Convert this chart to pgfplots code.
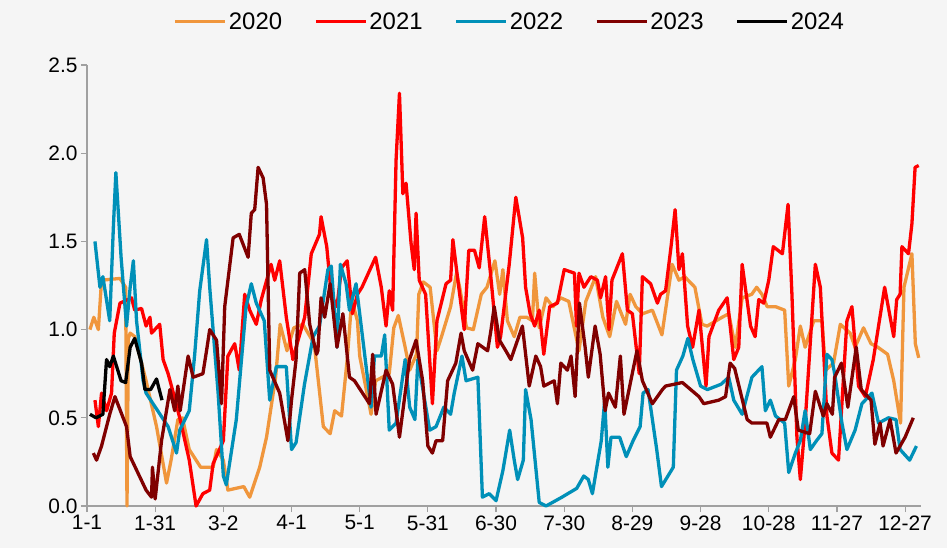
\documentclass[border=0pt]{standalone}
\usepackage{pgfplots}
\pgfplotsset{compat=1.18}
\usepackage{fontspec}
\setmainfont{Liberation Sans}
\definecolor{bg}{HTML}{F5F5F5}
\definecolor{c20}{HTML}{F0963C}
\definecolor{c21}{HTML}{FF0000}
\definecolor{c22}{HTML}{0090B8}
\definecolor{c23}{HTML}{800000}
\definecolor{ax}{HTML}{A0A0A0}
\begin{document}
\begin{tikzpicture}
\path[use as bounding box,fill=bg] (0,0) rectangle (947bp,548bp);
\begin{axis}[at={(87bp,42bp)}, anchor=south west, scale only axis,
 width=834bp, height=441bp, xmin=0, xmax=367, ymin=0, ymax=2.5,
 axis x line=bottom, axis y line=left, axis line style={ax, line width=1.2bp, -},
 xtick={0,30,...,360}, xticklabels={1-1,1-31,3-2,4-1,5-1,5-31,6-30,7-30,8-29,9-28,10-28,11-27,12-27},
 ytick={0,0.5,...,2.5}, tick style={ax, line width=1.2bp}, tick align=outside, major tick length=6bp,
 yticklabel style={/pgf/number format/.cd, fixed, fixed zerofill, precision=1, assume math mode=true},
 ticklabel style={font=\fontsize{21}{24}\selectfont, text=black},
 every axis plot/.append style={line width=3.3bp, line join=round},
 legend columns=5,
 legend style={at={(0.507,1.098)}, anchor=center, draw=none, fill=none, font=\fontsize{24}{28}\selectfont,
   /tikz/every even column/.append style={column sep=30bp}},
 legend image code/.code={\draw[#1, line width=3.3bp] (0bp,0bp) -- (50bp,0bp);},
 clip=false]
\addplot[c20] coordinates {(1.3,1.0)(3,1.07)(5,1.0)(6.4,1.28)(14.5,1.29)(17,1.24)(17.6,0.0)(18.2,0.95)(19,0.98)(21,0.96)(26,0.71)(30.6,0.45)(35,0.13)(37,0.26)(40,0.49)(42,0.5)(45,0.32)(50,0.22)(55.5,0.22)(57,0.32)(60,0.26)(62,0.09)(69,0.11)(71.6,0.05)(76,0.22)(79,0.39)(83,0.73)(85,1.03)(88,0.88)(91,1.01)(95,1.03)(100,0.92)(104,0.45)(107,0.41)(109,0.54)(112,0.51)(114.5,0.83)(116.5,1.17)(119,1.05)(120,0.85)(125,0.52)(127,0.71)(133,0.75)(135,1.01)(137,1.08)(140,0.9)(142,0.77)(145,0.86)(146,1.2)(148,1.27)(151,1.24)(154,0.88)(156,0.96)(160,1.13)(162.6,1.32)(164,1.24)(167,1.01)(170,1.0)(173.5,1.2)(176,1.24)(179.5,1.39)(181.6,1.2)(183,1.34)(185,1.05)(188,0.96)(190.5,1.07)(193.5,1.07)(196,1.05)(197,1.32)(199,1.01)(202,1.18)(205,1.13)(208.5,1.18)(212,1.16)(216.5,0.88)(219.5,1.16)(223.8,1.3)(227,1.07)(230,0.96)(233,1.16)(237,1.03)(239,1.2)(241.5,1.13)(244.5,1.09)(248.8,1.11)(253,0.97)(257.5,1.37)(260.5,1.28)(263,1.3)(267.5,1.24)(270.6,1.03)(272.9,1.02)(279.5,1.07)(282.4,1.09)(285.3,0.9)(288.3,1.18)(292.5,1.2)(294.7,1.24)(297,1.2)(299.3,1.13)(303,1.13)(307,1.11)(308.8,0.68)(311.7,0.83)(313.9,1.02)(316,0.9)(319.8,1.05)(323.4,1.05)(325,0.77)(328.5,0.81)(331.5,1.03)(335.8,0.98)(338,0.9)(341.7,1.01)(345,0.92)(348,0.9)(352.3,0.86)(355,0.71)(358,0.47)(359.5,1.24)(363,1.43)(364.5,0.92)(366,0.84)};
\addlegendentry{2020}
\addplot[c21] coordinates {(3.5,0.6)(5,0.45)(6.4,0.64)(8.6,0.54)(10.8,0.64)(12,0.98)(14.5,1.15)(19.6,1.18)(21,1.11)(24,1.12)(26,1.02)(27.7,1.07)(28.4,0.98)(32,1.03)(33.5,0.83)(35.7,0.75)(38,0.64)(41,0.49)(45,0.26)(48,0.0)(51,0.07)(54,0.09)(55.5,0.24)(60,0.37)(62,0.85)(65,0.92)(67,0.77)(69.4,1.2)(71.6,1.11)(74.5,1.03)(76.7,1.17)(81,1.37)(82.6,1.28)(84.8,1.39)(87.7,1.07)(90.6,0.83)(92,0.9)(95.8,1.07)(98.7,1.43)(102.3,1.54)(103,1.64)(105.5,1.47)(107.5,1.2)(110,1.13)(112,1.35)(114.5,1.39)(116.8,1.09)(119,1.2)(121,1.24)(127,1.41)(129.5,1.24)(131.6,1.02)(133,1.22)(134.5,1.11)(136,1.96)(137.5,2.34)(139,1.77)(140.4,1.83)(142.6,1.49)(144,1.34)(144.8,1.66)(146.2,1.28)(149,1.2)(152,0.58)(154,1.05)(158,1.26)(160,1.28)(161,1.51)(163,1.3)(166,1.0)(168,1.45)(170.5,1.45)(172.6,1.35)(175,1.64)(177.7,1.3)(180.6,0.9)(182,0.96)(185.8,1.37)(188.7,1.75)(191.7,1.52)(193,1.24)(195,1.09)(197,1.02)(199,1.11)(201,0.86)(203.6,1.13)(207,1.15)(210,1.34)(214.5,1.32)(215.4,1.02)(216.5,1.32)(218.7,1.24)(221.7,1.3)(224.6,1.28)(226,1.18)(228.2,1.3)(229.7,1.0)(231,1.28)(235.6,1.43)(237.8,1.11)(240,1.09)(243,0.75)(244.4,1.3)(248,1.26)(251,1.15)(252.4,1.2)(254.6,1.22)(257,1.47)(258.8,1.68)(260.5,1.34)(262,1.43)(264.3,1.02)(266.5,0.9)(269.3,1.11)(272.4,0.68)(273.7,0.96)(278,1.11)(281.7,1.18)(284.6,0.83)(286.8,0.9)(288.3,1.37)(292,1.02)(294,0.96)(295.6,1.17)(297.8,1.15)(300,1.28)(302,1.47)(306,1.43)(308.5,1.71)(310.2,1.2)(312.4,0.39)(313.9,0.15)(316,0.47)(320.5,1.37)(322.7,1.24)(325.6,0.51)(327.8,0.3)(330.7,0.26)(334.4,1.05)(336.6,1.13)(339.5,0.68)(342.5,0.62)(346,0.83)(351,1.24)(355,0.96)(356.3,1.17)(357.8,1.2)(358.6,1.47)(361.5,1.43)(363,1.6)(364.4,1.92)(366,1.93)};
\addlegendentry{2021}
\addplot[c22] coordinates {(3.5,1.5)(5.7,1.24)(7,1.3)(10,1.05)(11.6,1.58)(12.7,1.89)(15,1.41)(17.4,1.02)(19,1.24)(20.4,1.39)(21.8,1.05)(24.7,0.71)(26,0.64)(35.7,0.45)(39.4,0.3)(40.8,0.43)(45,0.54)(47.4,0.86)(49.6,1.22)(52.6,1.51)(54,1.24)(57.7,0.64)(60,0.17)(61.3,0.12)(65.7,0.49)(70,1.13)(72.3,1.26)(74.5,1.15)(78,1.05)(80.4,0.6)(83.3,0.79)(87.7,0.79)(90,0.32)(92,0.36)(95.7,0.69)(99.5,0.96)(102.3,1.02)(106,1.34)(107.5,1.36)(110,0.9)(111.5,1.37)(114,1.26)(115.5,1.11)(118.4,1.26)(125,0.56)(126.5,0.85)(129.5,0.85)(131,0.97)(133,0.43)(136,0.47)(140,0.83)(142,0.56)(144.3,0.49)(145.6,0.83)(150.8,0.43)(153.6,0.45)(157,0.56)(160,0.52)(161.6,0.64)(165,0.85)(166.8,0.71)(172,0.73)(174,0.05)(177,0.07)(180,0.03)(183,0.2)(186,0.43)(188,0.26)(189.5,0.15)(192,0.26)(193,0.66)(195.4,0.49)(199,0.02)(202,0.0)(209,0.05)(215.5,0.1)(218.6,0.17)(220.6,0.15)(222.4,0.07)(226.3,0.37)(227.8,0.6)(229.2,0.22)(230.6,0.39)(234.4,0.39)(237.3,0.28)(240.3,0.37)(243.4,0.45)(244.7,0.64)(246.9,0.66)(250.7,0.32)(252.8,0.11)(258,0.22)(259.4,0.77)(262.2,0.85)(264.4,0.95)(266.6,0.83)(270,0.68)(273,0.66)(279,0.69)(282.4,0.73)(284.6,0.6)(288.3,0.52)(292.6,0.73)(297,0.79)(298.5,0.54)(300.7,0.6)(303,0.51)(307,0.47)(308.8,0.19)(311.7,0.3)(313.9,0.37)(316,0.54)(318.3,0.32)(321,0.37)(323.4,0.41)(325.6,0.86)(327.8,0.83)(329,0.75)(332.2,0.47)(334.4,0.32)(338,0.43)(341,0.58)(345.4,0.64)(348.3,0.47)(352.7,0.5)(356,0.49)(357.8,0.32)(362,0.26)(365,0.34)};
\addlegendentry{2022}
\addplot[c23] coordinates {(2.8,0.3)(4.2,0.26)(6.4,0.34)(10,0.52)(12.3,0.62)(17.4,0.45)(19,0.28)(26,0.09)(28.4,0.05)(28.8,0.22)(30,0.04)(32.8,0.37)(36.5,0.66)(38.6,0.54)(40,0.68)(41,0.54)(44.5,0.85)(46.7,0.73)(51,0.75)(52.6,0.88)(54,1.0)(57,0.94)(59.2,0.58)(60.6,1.13)(64.3,1.52)(67,1.54)(70.9,1.41)(72.3,1.66)(73.8,1.68)(75.3,1.92)(77.5,1.86)(79,1.71)(80.4,0.77)(84.8,0.64)(88.4,0.37)(90,0.6)(92,0.83)(93.6,1.32)(95.8,1.34)(98,1.03)(101,0.86)(101.6,0.88)(103,1.18)(104.6,1.07)(107,1.26)(110,0.9)(112.6,1.09)(115.5,0.73)(117.7,0.71)(124.3,0.58)(125.7,0.86)(127.2,0.52)(131.6,0.77)(134.5,0.69)(137.5,0.39)(141.9,0.83)(144.8,0.94)(147.7,0.71)(150,0.34)(152,0.3)(153.6,0.37)(156.5,0.37)(158.7,0.71)(162.3,0.81)(164.6,0.98)(166,0.88)(169.7,0.77)(172,0.92)(176.3,0.88)(177.8,1.0)(179.2,1.13)(181.5,0.94)(184.3,0.88)(186.5,0.83)(191.6,1.02)(194.6,0.68)(197.5,0.85)(199.6,0.79)(201,0.68)(205.6,0.71)(207,0.58)(208.5,0.81)(211.4,0.77)(213,0.85)(214.8,0.62)(216.7,1.15)(219.2,0.9)(220.6,0.73)(223.6,1.02)(225.8,0.86)(228,0.54)(229.5,0.64)(232.5,0.56)(234.7,0.85)(236.3,0.52)(239.3,0.71)(242,0.88)(244.4,0.71)(248.8,0.58)(253.2,0.66)(254.6,0.68)(262,0.7)(269.3,0.62)(271.4,0.58)(278,0.6)(281,0.62)(283,0.81)(285,0.78)(290.5,0.49)(292.6,0.47)(299.2,0.47)(300.7,0.39)(304.4,0.49)(307.3,0.49)(311,0.62)(313,0.43)(318,0.41)(320.5,0.65)(324,0.51)(325.6,0.58)(328,0.52)(329,0.73)(332,0.81)(334.8,0.56)(338.5,0.9)(340.7,0.66)(345,0.6)(346.7,0.35)(349,0.47)(350.3,0.34)(353.4,0.49)(356,0.3)(360,0.39)(363.6,0.5)};
\addlegendentry{2023}
\addplot[black] coordinates {(1.3,0.52)(4,0.5)(7,0.52)(8.6,0.83)(10,0.79)(11.6,0.85)(15,0.71)(17,0.70)(19,0.90)(21,0.95)(22.5,0.88)(24,0.81)(25.5,0.66)(28,0.66)(30.6,0.72)(33,0.60)};
\addlegendentry{2024}
\end{axis}
\end{tikzpicture}
\end{document}
